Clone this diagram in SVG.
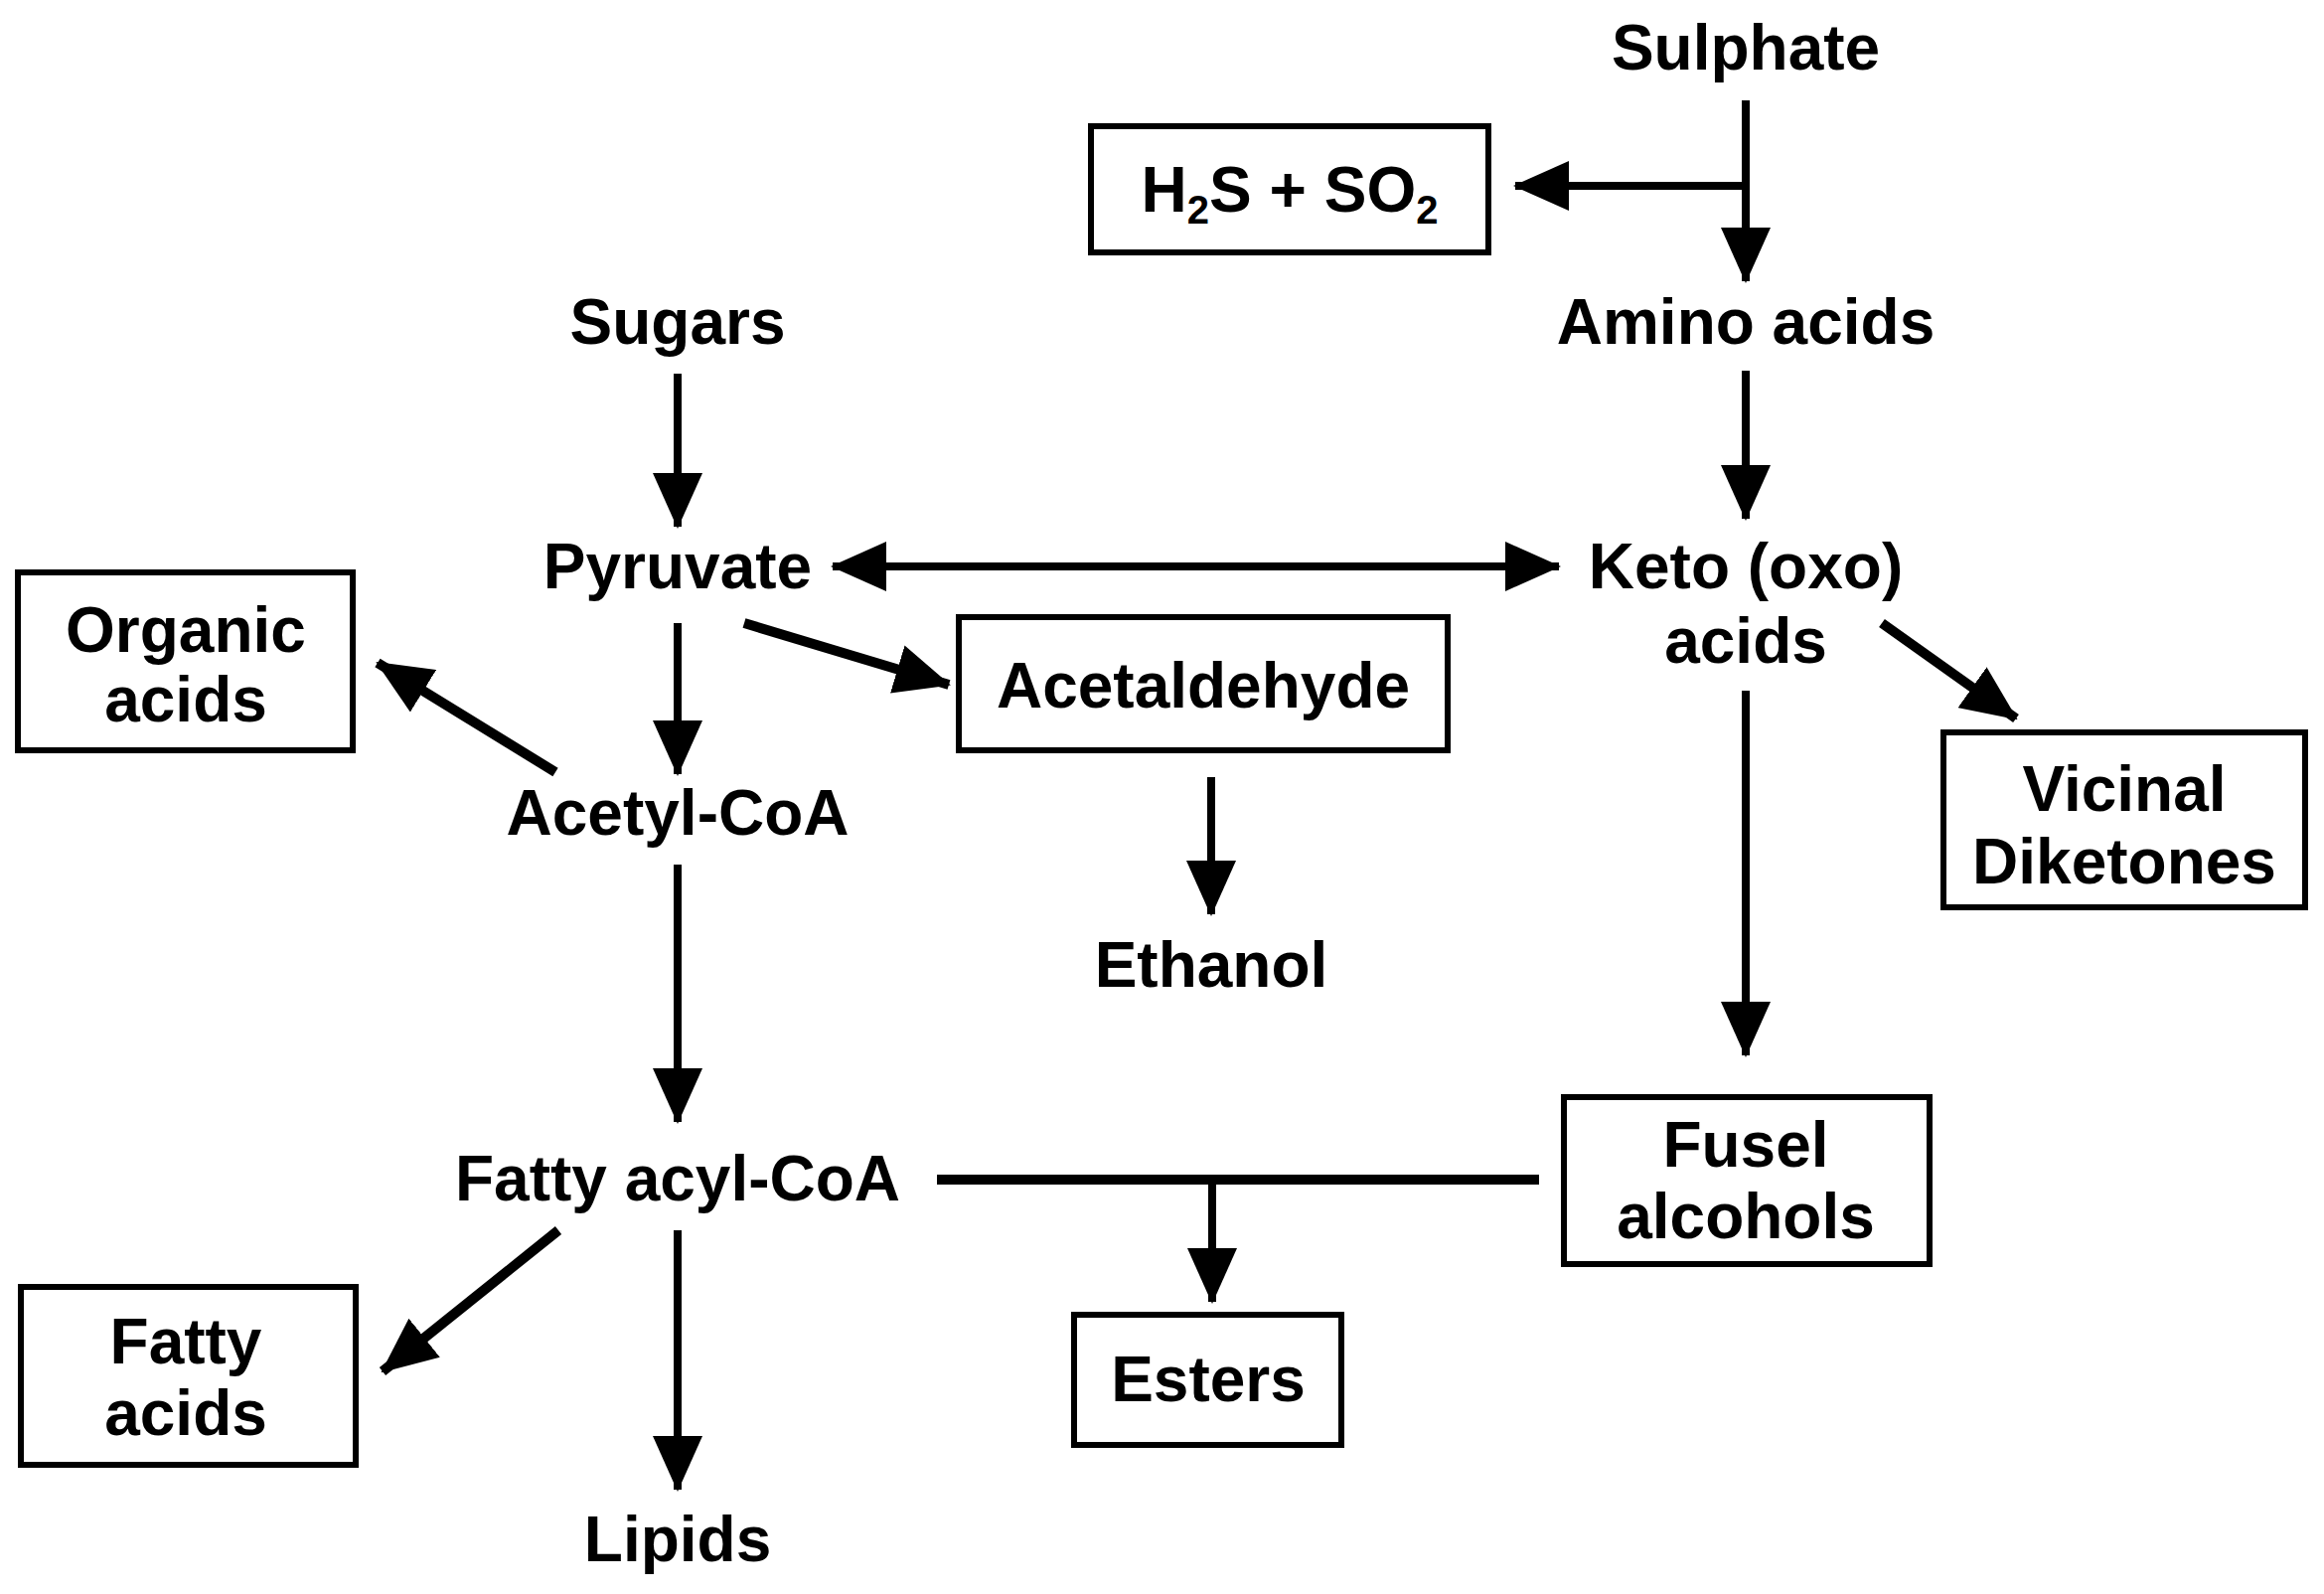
<svg xmlns="http://www.w3.org/2000/svg" width="2339" height="1604" viewBox="0 0 2339 1604">
<style>
text{font-family:"Liberation Sans",Arial,Helvetica,sans-serif;font-weight:bold;font-size:64px;fill:#000;text-anchor:middle}
.box{fill:#fff;stroke:#000;stroke-width:6}
.ln{stroke:#000;stroke-width:8;fill:none}
.dg{stroke:#000;stroke-width:10;fill:none}
.sub{font-size:40px}
</style>
<defs>
<marker id="ah" markerUnits="userSpaceOnUse" markerWidth="56" markerHeight="50" refX="54" refY="25" orient="auto-start-reverse" viewBox="0 0 56 50">
<path d="M0,0 L56,25 L0,50 z" fill="#000"/>
</marker>
</defs>
<rect width="2339" height="1604" fill="#fff"/>
<g id="connectors">
<path class="ln" d="M1757,101 V283" marker-end="url(#ah)"/>
<path class="ln" d="M1757,187 H1525" marker-end="url(#ah)"/>
<path class="ln" d="M1757,373 V522" marker-end="url(#ah)"/>
<path class="ln" d="M682,376 V530" marker-end="url(#ah)"/>
<path class="ln" d="M838,570 H1569" marker-start="url(#ah)" marker-end="url(#ah)"/>
<path class="dg" d="M559,777 L380,667" marker-end="url(#ah)"/>
<path class="ln" d="M682,627 V779" marker-end="url(#ah)"/>
<path class="dg" d="M749,627 L955,689" marker-end="url(#ah)"/>
<path class="ln" d="M1219,782 V920" marker-end="url(#ah)"/>
<path class="ln" d="M1757,695 V1062" marker-end="url(#ah)"/>
<path class="dg" d="M1894,627 L2029,723" marker-end="url(#ah)"/>
<path class="ln" d="M682,870 V1129" marker-end="url(#ah)"/>
<path class="dg" d="M943,1187 H1549"/>
<path class="ln" d="M1220,1187 V1310" marker-end="url(#ah)"/>
<path class="dg" d="M562,1238 L385,1380" marker-end="url(#ah)"/>
<path class="ln" d="M682,1238 V1499" marker-end="url(#ah)"/>
</g>
<g id="sulphate"><text x="1757" y="70">Sulphate</text></g>
<g id="h2s-so2"><rect class="box" x="1098" y="127" width="400" height="127"/>
<text x="1298" y="213">H<tspan class="sub" dy="12">2</tspan><tspan dy="-12">S + SO</tspan><tspan class="sub" dy="12">2</tspan></text></g>
<g id="amino-acids"><text x="1757" y="346">Amino acids</text></g>
<g id="sugars"><text x="682" y="346">Sugars</text></g>
<g id="pyruvate"><text x="682" y="592">Pyruvate</text></g>
<g id="keto-acids"><text x="1757" y="592">Keto (oxo)</text><text x="1757" y="667">acids</text></g>
<g id="organic-acids"><rect class="box" x="18" y="576" width="337" height="179"/>
<text x="187" y="656">Organic</text><text x="187" y="726">acids</text></g>
<g id="acetaldehyde"><rect class="box" x="965" y="621" width="492" height="134"/>
<text x="1211" y="712">Acetaldehyde</text></g>
<g id="acetyl-coa"><text x="682" y="840">Acetyl-CoA</text></g>
<g id="ethanol"><text x="1219" y="993">Ethanol</text></g>
<g id="vicinal-diketones"><rect class="box" x="1956" y="737" width="364" height="176"/>
<text x="2138" y="816">Vicinal</text><text x="2138" y="889">Diketones</text></g>
<g id="fatty-acyl-coa"><text x="682" y="1208">Fatty acyl-CoA</text></g>
<g id="fusel-alcohols"><rect class="box" x="1574" y="1104" width="368" height="168"/>
<text x="1757" y="1174">Fusel</text><text x="1757" y="1246">alcohols</text></g>
<g id="esters"><rect class="box" x="1081" y="1323" width="269" height="131"/>
<text x="1216" y="1410">Esters</text></g>
<g id="fatty-acids"><rect class="box" x="21" y="1295" width="337" height="179"/>
<text x="187" y="1372">Fatty</text><text x="187" y="1444">acids</text></g>
<g id="lipids"><text x="682" y="1571">Lipids</text></g>
</svg>
